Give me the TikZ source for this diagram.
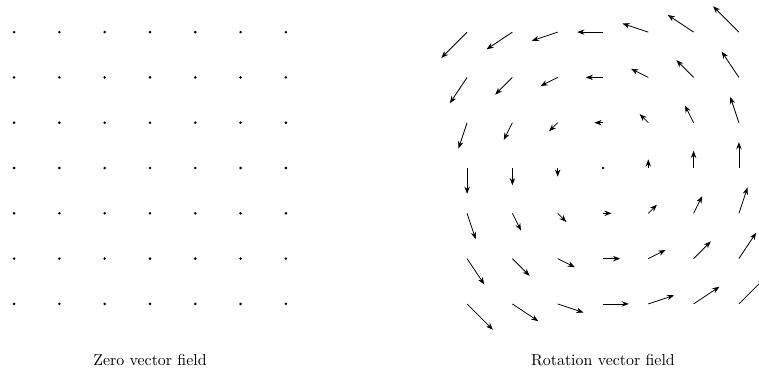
\documentclass[tikz,border=0pt]{standalone}
\usepackage{tikz}
\usetikzlibrary{arrows.meta}

\begin{document}
\begin{tikzpicture}[
      dot/.style={fill=black},
      vec/.style={-{Stealth[length=4.5pt,width=3.4pt]}, line width=0.5pt},
      caption/.style={font=\normalsize}]
      \clip (-3.311,-4.834) rectangle (13.444,3.709);
      \useasboundingbox (-3.311,-4.834) rectangle (13.444,3.709);

      % Zero field - only the grid points
      \foreach \x in {-3,...,3}
        \foreach \y in {-3,...,3}
          \fill[dot] (\x,\y) circle (0.9pt);

      % Rotation field (-y, x), shifted by 10
      \foreach \x in {-3,...,3}
        \foreach \y in {-3,...,3} {
          \ifnum\numexpr\x*\x+\y*\y\relax=0
            \fill[dot] (10,0) circle (0.9pt);
          \else
            \draw[vec] (\x+10,\y) -- ++({-0.19*\y},{0.19*\x});
          \fi
        }

      % Captions
      \node[caption] (zero) at (0,-4.24) {Zero vector field};
      \node[caption] (rot)  at (10,-4.24) {Rotation vector field};
    \end{tikzpicture}
\end{document}
